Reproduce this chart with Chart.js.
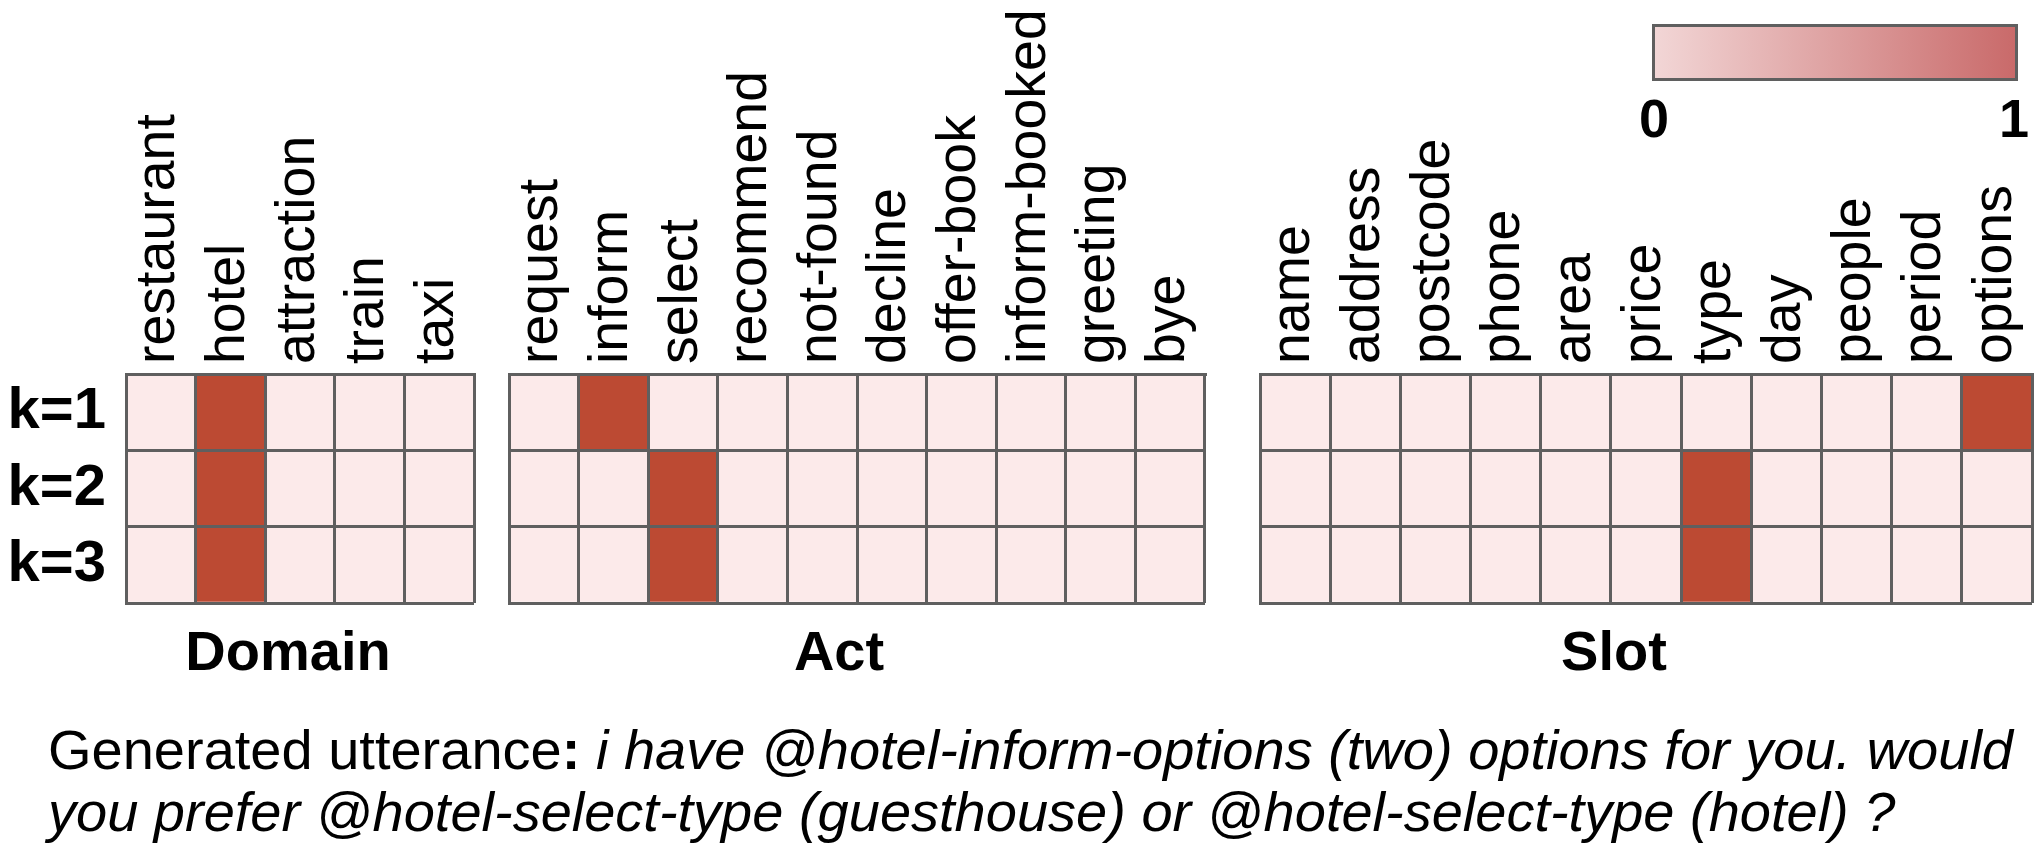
<!DOCTYPE html>
<html>
<head>
<meta charset="utf-8">
<script src="https://cdn.jsdelivr.net/npm/chart.js@4.4.0/dist/chart.umd.min.js"></script>
<style>
  html, body { margin: 0; padding: 0; background: #fff; }
  body { width: 2036px; height: 856px; position: relative; overflow: hidden; font-family: "Liberation Sans", Arial, sans-serif; }
  canvas { position: absolute; top: 0; }
  .titulo { position: absolute; top: 623px; width: 400px; text-align: center; font-weight: bold; font-size: 56px; line-height: 56px; color: #000; }
  .barra { position: absolute; left: 1652px; top: 24px; width: 366px; height: 57px; box-sizing: border-box; border: 3px solid #5f5f5f; background: linear-gradient(to right, #f2d6d6, #c96a6a); }
  .marca { position: absolute; top: 91px; width: 100px; text-align: center; font-weight: bold; font-size: 54px; line-height: 54px; color: #000; }
  .frase { position: absolute; left: 48px; top: 719px; width: 1990px; font-size: 56px; line-height: 62px; color: #000; white-space: nowrap; }
</style>
</head>
<body>
<canvas id="graficoDomain" width="490" height="620" style="left:0px"></canvas>
<canvas id="graficoAct" width="730" height="620" style="left:490px"></canvas>
<canvas id="graficoSlot" width="796" height="620" style="left:1240px"></canvas>

<div class="titulo" style="left:88px">Domain</div>
<div class="titulo" style="left:639px">Act</div>
<div class="titulo" style="left:1414px">Slot</div>

<div class="barra"></div>
<div class="marca" style="left:1604px">0</div>
<div class="marca" style="left:1964px">1</div>

<div class="frase">Generated utterance<b>:</b> <i>i have @hotel-inform-options (two) options for you. would</i><br><i>you prefer @hotel-select-type (guesthouse) or @hotel-select-type (hotel) ?</i></div>

<script>
// ================= DATOS =================
const filas = ["k=1", "k=2", "k=3"];

const dominios = ["restaurant", "hotel", "attraction", "train", "taxi"];
const actos = ["request", "inform", "select", "recommend", "not-found", "decline", "offer-book", "inform-booked", "greeting", "bye"];
const slots = ["name", "address", "postcode", "phone", "area", "price", "type", "day", "people", "period", "options"];

// un valor por celda (fila k, columna)
const valoresDominio = [
  [0, 1, 0, 0, 0],
  [0, 1, 0, 0, 0],
  [0, 1, 0, 0, 0]
];
const valoresActo = [
  [0, 1, 0, 0, 0, 0, 0, 0, 0, 0],
  [0, 0, 1, 0, 0, 0, 0, 0, 0, 0],
  [0, 0, 1, 0, 0, 0, 0, 0, 0, 0]
];
const valoresSlot = [
  [0, 0, 0, 0, 0, 0, 0, 0, 0, 0, 1],
  [0, 0, 0, 0, 0, 0, 1, 0, 0, 0, 0],
  [0, 0, 0, 0, 0, 0, 1, 0, 0, 0, 0]
];

// ================= FUNCIONES UTILES =================
const colorBajo = [252, 234, 234];
const colorAlto = [188, 74, 51];
const colorLinea = "#5f5f5f";

function colorCelda(v) {
  const c = colorBajo.map((b, i) => Math.round(b + (colorAlto[i] - b) * v));
  return `rgb(${c[0]},${c[1]},${c[2]})`;
}

// ================= HEATMAP =================
function crearHeatmap(id, columnas, valores, pad, conFilas) {
  const datasets = filas.map((fila, i) => ({
    label: fila,
    data: columnas.map(() => [filas.length - 1 - i, filas.length - i]),
    backgroundColor: valores[i].map(colorCelda),
    borderWidth: 0,
    barPercentage: 1,
    categoryPercentage: 1,
    grouped: false
  }));

  const scales = {
    x: {
      type: "category",
      position: "top",
      offset: true,
      grid: { offset: true, color: colorLinea, lineWidth: 3, drawTicks: false, z: 1 },
      border: { color: colorLinea, width: 3, z: 1 },
      ticks: {
        color: "#000",
        font: { family: "Liberation Sans", size: 55.5 },
        minRotation: 90,
        maxRotation: 90,
        autoSkip: false,
        padding: 10,
        labelOffset: 65   // el eje superior rotado corre las etiquetas una linea a la izquierda
      },
      afterFit: s => { s.height = 374; s.paddingLeft = 0; s.paddingRight = 0; }
    },
    y: {
      type: "linear",
      min: 0,
      max: 3,
      weight: 0,
      ticks: { display: false, stepSize: 1 },
      grid: { color: colorLinea, lineWidth: 3, drawTicks: false, z: 1 },
      border: { color: colorLinea, width: 3, z: 1 },
      afterFit: s => { s.width = 0; s.paddingTop = 0; s.paddingBottom = 0; }
    }
  };

  if (conFilas) {
    scales.filas = {
      type: "category",
      labels: filas,
      position: "left",
      offset: true,
      weight: 1,
      grid: { display: false },
      border: { display: false },
      ticks: { color: "#000", font: { family: "Liberation Sans", size: 58, weight: "bold" }, padding: 12 },
      afterFit: s => { s.width = 126; s.paddingTop = 0; s.paddingBottom = 0; }
    };
  }

  new Chart(document.getElementById(id).getContext("2d"), {
    type: "bar",
    data: { labels: columnas, datasets },
    options: {
      responsive: false,
      animation: false,
      layout: { padding: pad },
      plugins: { legend: { display: false }, tooltip: { enabled: false } },
      scales
    }
  });
}

crearHeatmap("graficoDomain", dominios, valoresDominio, { left: 0, right: 16, top: 0, bottom: 17 }, true);
crearHeatmap("graficoAct", actos, valoresActo, { left: 19, right: 15, top: 0, bottom: 17 }, false);
crearHeatmap("graficoSlot", slots, valoresSlot, { left: 20, right: 4, top: 0, bottom: 17 }, false);
</script>
</body>
</html>
